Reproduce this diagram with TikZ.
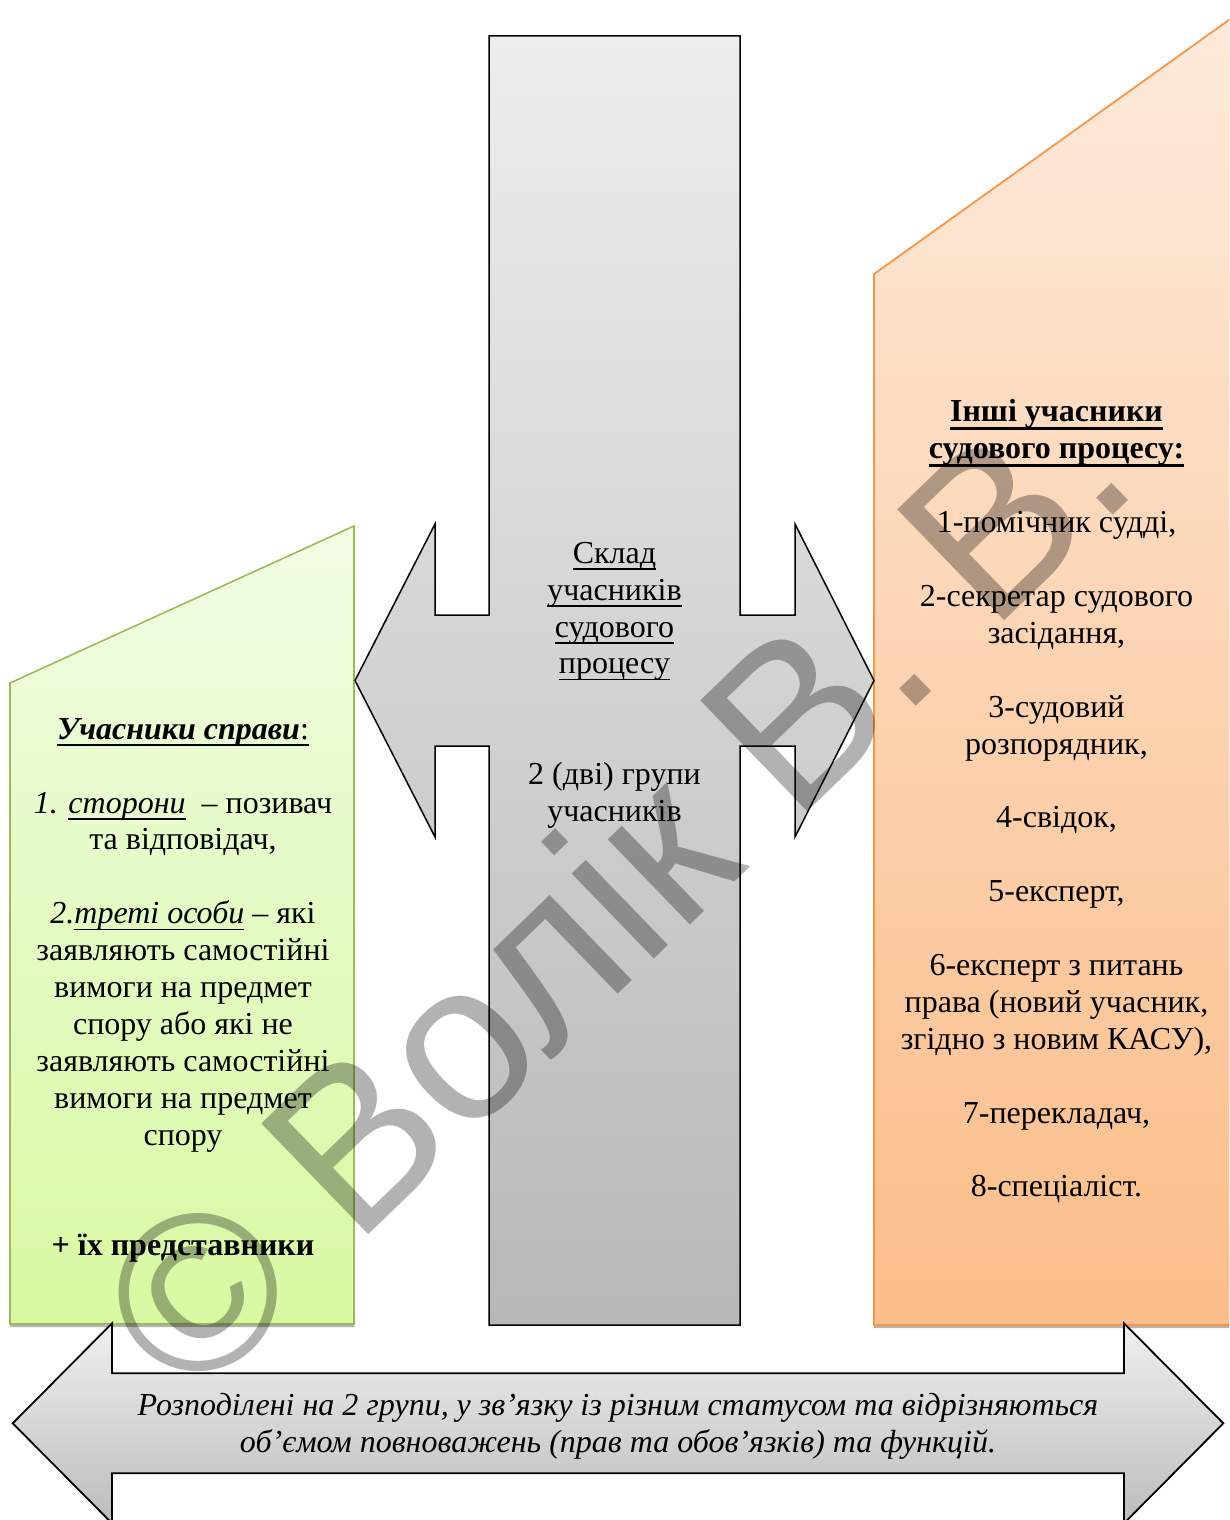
\documentclass[tikz,border=0pt]{standalone}
\usepackage{fontspec}
\setmainfont{Liberation Serif}
\newfontfamily\wmfont{Liberation Sans}
\usetikzlibrary{shadows}
\newsavebox\ulbox
\newcommand{\myul}[1]{\sbox\ulbox{#1}\rlap{\rule[-6.5pt]{\wd\ulbox}{1.6pt}}\usebox\ulbox}
\newcommand{\thul}[1]{\sbox\ulbox{#1}\rlap{\rule[-8.5pt]{\wd\ulbox}{3.2pt}}\usebox\ulbox}
\newcommand{\fstrut}{\rule{0pt}{32pt}}
\newcommand{\txtfont}{\fontsize{32}{36.9}\selectfont\lineskiplimit=-100pt\relax\lineskip=0pt\relax}
\definecolor{grnLine}{HTML}{9BBB59}
\definecolor{grnTop}{HTML}{F2FCE4}
\definecolor{grnBot}{HTML}{D8F9A2}
\definecolor{orLine}{HTML}{F79646}
\definecolor{orTop}{HTML}{FDEADB}
\definecolor{orBot}{HTML}{FBBD89}
\definecolor{gTop}{HTML}{EDEDED}
\definecolor{gBot}{HTML}{B8B8B8}
\definecolor{aTop}{HTML}{F0F0F0}
\definecolor{aBot}{HTML}{BCBCBC}
\begin{document}
\begin{tikzpicture}[x=1pt,y=-1pt,
  boxshadow/.style={drop shadow={shadow xshift=0pt,shadow yshift=-3pt,fill=black,opacity=0.3}},
  greenbox/.style={draw=grnLine,line width=1.6pt,top color=grnTop,bottom color=grnBot,boxshadow},
  orangebox/.style={draw=orLine,line width=1.8pt,top color=orTop,bottom color=orBot,boxshadow},
  crossshape/.style={draw=black,line width=1.5pt,top color=gTop,bottom color=gBot,line join=miter},
  bottomarrow/.style={draw=black,line width=1.8pt,top color=aTop,bottom color=aBot,line join=miter},
  txt/.style={align=center,inner sep=0pt,anchor=north,font=\txtfont},
  watermark/.style={inner sep=0pt,anchor=base,rotate=44,text=black,text opacity=0.3,
    font=\wmfont\fontsize{224}{240}\selectfont}]
\useasboundingbox (0,0) rectangle (1229,1520);
\clip (0,0) rectangle (1229,1520);

% left green box
\path[greenbox] (10,683) -- (354,526) -- (354,1324) -- (10,1324) -- cycle;
% right orange box
\path[orangebox] (874,274) -- (1240,12) -- (1240,1325) -- (874,1325) -- cycle;
% central cross arrow
\path[crossshape] (489,36) -- (740,36) -- (740,615) -- (795,615) -- (795,524)
  -- (874,680.5) -- (795,837) -- (795,746) -- (740,746) -- (740,1325)
  -- (489,1325) -- (489,746) -- (435,746) -- (435,837) -- (355,680.5)
  -- (435,524) -- (435,615) -- (489,615) -- cycle;
% bottom double arrow
\path[bottomarrow] (12.7,1423.3) -- (112,1323.3) -- (112,1373.3) -- (1124,1373.3)
  -- (1124,1323.3) -- (1223.3,1423.3) -- (1124,1523.3) -- (1124,1473.3)
  -- (112,1473.3) -- (112,1523.3) -- cycle;

% texts
\node[txt] (left) at (183,707) {\fstrut\myul{\textbf{\textit{Учасники справи}}:}\\[36.9pt]
  \textit{1. \myul{сторони}}\ \ – позивач\\
  та відповідач,\\[36.9pt]
  \textit{2.\myul{треті особи}} – які\\
  заявляють самостійні\\
  вимоги на предмет\\
  спору або які не\\
  заявляють самостійні\\
  вимоги на предмет\\
  спору\\[73.8pt]
  \textbf{+ їх представники}};

\node[txt] (center) at (614.5,531) {\fstrut\myul{Склад}\\
  \myul{учасників}\\
  \myul{судового}\\
  \myul{процесу}\\[73.8pt]
  2 (дві) групи\\
  учасників};

\node[txt] (right) at (1056.5,389.7) {\fstrut\thul{\textbf{Інші учасники}}\\
  \thul{\textbf{судового процесу:}}\\[36.9pt]
  1-помічник судді,\\[36.9pt]
  2-секретар судового\\
  засідання,\\[36.9pt]
  3-судовий\\
  розпорядник,\\[36.9pt]
  4-свідок,\\[36.9pt]
  5-експерт,\\[36.9pt]
  6-експерт з питань\\
  права (новий учасник,\\
  згідно з новим КАСУ),\\[36.9pt]
  7-перекладач,\\[36.9pt]
  8-спеціаліст.};

\node[txt,font=\txtfont\itshape] (bottom) at (618,1383)
  {\fstrut Розподілені на 2 групи, у зв’язку із різним статусом та відрізняються\\
  об’ємом повноважень (прав та обов’язків) та функцій.};

% watermark
\node[watermark] (wm) at (668,946) {© Волік В. В.};
\end{tikzpicture}
\end{document}
